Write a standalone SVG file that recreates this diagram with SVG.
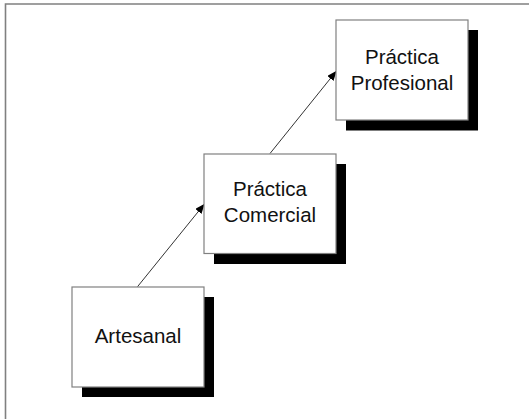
<svg xmlns="http://www.w3.org/2000/svg" width="529" height="419" viewBox="0 0 529 419">
<defs>
<style>
.box{fill:#fff;stroke:#808080;stroke-width:1.2}
.shadow{fill:#000}
.lbl{font-family:"Liberation Sans",Arial,sans-serif;font-size:20.5px;fill:#111;text-anchor:middle}
.conn{stroke:#333;stroke-width:1;fill:none;marker-end:url(#ah)}
</style>
<marker id="ah" markerWidth="10" markerHeight="8" refX="9" refY="4" orient="auto" markerUnits="userSpaceOnUse">
<path d="M0,0 L10,4 L0,8 Z" fill="#000"/>
</marker>
</defs>
<rect width="529" height="419" fill="#fff"/>
<path d="M5.5,419 V4 H529" fill="none" stroke="#808080" stroke-width="1.6"/>
<g id="connectors">
<line class="conn" x1="137.5" y1="286.7" x2="204" y2="204.5"/>
<line class="conn" x1="270" y1="153.5" x2="336" y2="71.5"/>
</g>
<g id="artesanal">
<rect class="shadow" x="82" y="297" width="132" height="100"/>
<rect class="box" x="72" y="287" width="132" height="100"/>
<text class="lbl" x="138" y="343">Artesanal</text>
</g>
<g id="comercial">
<rect class="shadow" x="214" y="164" width="132" height="100"/>
<rect class="box" x="204" y="154" width="132" height="99.5"/>
<text class="lbl" x="270" y="196">Práctica</text>
<text class="lbl" x="270" y="221.5">Comercial</text>
</g>
<g id="profesional">
<rect class="shadow" x="346" y="30" width="132" height="100.5"/>
<rect class="box" x="336" y="20" width="132" height="100"/>
<text class="lbl" x="402" y="64">Práctica</text>
<text class="lbl" x="402" y="90">Profesional</text>
</g>
</svg>
